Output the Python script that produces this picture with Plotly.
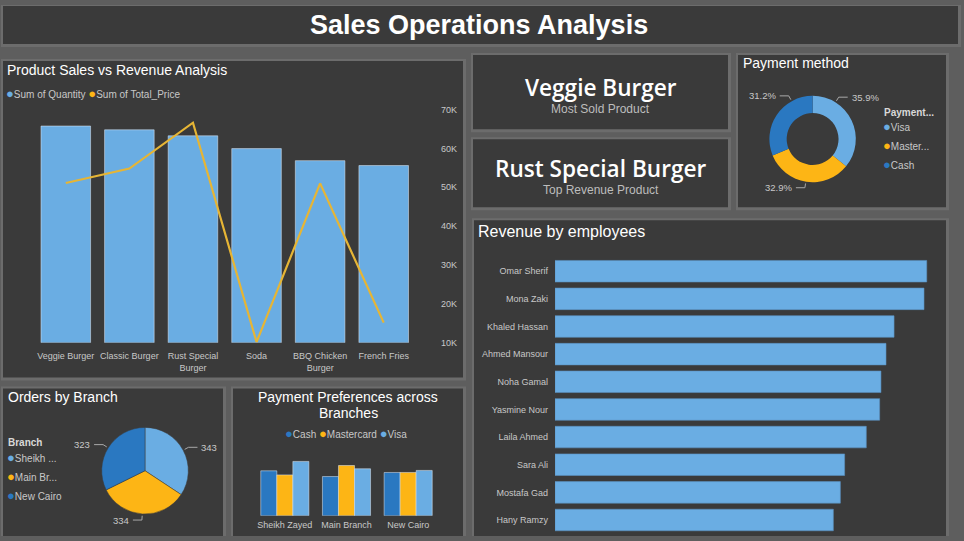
import math
import plotly.graph_objects as go

W, H = 964, 541

# ---------------- data ----------------
products = ["Veggie Burger", "Classic Burger", "Rust Special Burger", "Soda",
            "BBQ Chicken Burger", "French Fries"]
product_ticks = ["Veggie Burger", "Classic Burger", "Rust Special<br>Burger", "Soda",
                 "BBQ Chicken<br>Burger", "French Fries"]
sum_quantity = [576, 566, 550, 516, 484, 471]
sum_total_price = [51100, 54800, 66600, 10200, 51000, 15200]
price_ticks = [10000, 20000, 30000, 40000, 50000, 60000, 70000]
price_tick_labels = ["10K", "20K", "30K", "40K", "50K", "60K", "70K"]

employees = ["Omar Sherif", "Mona Zaki", "Khaled Hassan", "Ahmed Mansour", "Noha Gamal",
             "Yasmine Nour", "Laila Ahmed", "Sara Ali", "Mostafa Gad", "Hany Ramzy"]
employee_revenue = [28660, 28450, 26140, 25520, 25130, 25030, 24000, 22330, 22000, 21460]

pay_methods = ["Visa", "Mastercard", "Cash"]
pay_method_legend = ["Visa", "Master...", "Cash"]
pay_method_orders = [359, 329, 312]

branches = ["Sheikh Zayed", "Main Branch", "New Cairo"]
branch_legend = ["Sheikh ...", "Main Br...", "New Cairo"]
branch_orders = [343, 334, 323]

pref_methods = ["Cash", "Mastercard", "Visa"]
pref_cash = [110, 96, 106]
pref_mastercard = [100, 123, 106]
pref_visa = [133, 115, 111]

kpi_values = ["Veggie Burger", "Rust Special Burger"]
kpi_captions = ["Most Sold Product", "Top Revenue Product"]

# ---------------- styles ----------------
LIGHT = "#6AADE3"
YELLOW = "#FDB515"
DARK = "#2A78C1"
LINE = "#E6B535"
PANEL = "#3a3a3a"
BG = "#5e5e5e"
TXT = "#c8c8c8"
FONT = "Liberation Sans, Arial, sans-serif"

# the captured page is offset/squeezed slightly in the vertical direction;
# layout positions below are given in captured-picture pixels
VA, VB = 5.0, 0.98


def X(px):
    return px / W


def Y(py):
    v = 1 - ((py - VA) / VB) / H
    return min(max(v, 0.0), 1.0)


fig = go.Figure()

# ---- product chart ----
fig.add_trace(go.Bar(x=products, y=sum_quantity, name="Sum of Quantity",
                     marker_color=LIGHT, xaxis="x", yaxis="y", hoverinfo="x+y"))
fig.add_trace(go.Scatter(x=products, y=sum_total_price, name="Sum of Total_Price",
                         mode="lines", line=dict(color=LINE, width=2.2),
                         xaxis="x", yaxis="y2"))

# ---- revenue by employees ----
fig.add_trace(go.Bar(x=employee_revenue, y=employees, orientation="h",
                     marker_color=LIGHT, marker_line=dict(color="#5a90c0", width=0.6),
                     xaxis="x3", yaxis="y3", name="Revenue"))

# ---- payment preferences ----
for name, vals, col in zip(pref_methods, [pref_cash, pref_mastercard, pref_visa],
                           [DARK, YELLOW, LIGHT]):
    fig.add_trace(go.Bar(x=branches, y=vals, name=name, marker_color=col,
                         xaxis="x4", yaxis="y4"))

# ---- pies ----
DONUT_C, DONUT_R = (812.6, 138.8), 43.2
PIE_C, PIE_R = (145.0, 470.0), 43.3


def pie_domain(c, r):
    return dict(x=[X(c[0] - r), X(c[0] + r)], y=[Y(c[1] + r), Y(c[1] - r)])


fig.add_trace(go.Pie(labels=pay_methods, values=pay_method_orders, hole=0.6,
                     sort=False, direction="clockwise", rotation=0,
                     marker=dict(colors=[LIGHT, YELLOW, DARK]), textinfo="none",
                     domain=pie_domain(DONUT_C, DONUT_R), showlegend=False))
fig.add_trace(go.Pie(labels=branches, values=branch_orders,
                     sort=False, direction="clockwise", rotation=0,
                     marker=dict(colors=[LIGHT, YELLOW, DARK], line=dict(color="#3a3a3a", width=0.5)),
                     textinfo="none",
                     domain=pie_domain(PIE_C, PIE_R), showlegend=False))

shapes = []
annotations = []

# ---- panels ----
panels = [
    (3, 6, 958, 44),      # title
    (3, 61, 463, 377),    # product
    (473, 55, 728, 129),  # kpi 1
    (473, 139, 728, 207), # kpi 2
    (738, 55, 946, 207),  # payment method
    (474, 220, 946, 545), # employees
    (3, 388, 223, 536),   # orders by branch
    (233, 388, 463, 536), # payment prefs
]
for (x0, y0, x1, y1) in panels:
    shapes.append(dict(type="rect", xref="paper", yref="paper",
                       x0=X(x0 - 2), x1=X(x1 + 3), y0=Y(y1 + 3), y1=Y(y0 - 2),
                       fillcolor="#6c6c6c", line_width=0, layer="below"))
for (x0, y0, x1, y1) in panels:
    shapes.append(dict(type="rect", xref="paper", yref="paper",
                       x0=X(x0), x1=X(x1), y0=Y(y1), y1=Y(y0),
                       fillcolor=PANEL, line_width=0, layer="below"))


def ann(px, py, text, size, color="#ffffff", xanchor="left", bold=False, family=FONT, weight=None):
    f = dict(size=size, color=color, family=family)
    if weight is not None:
        f["weight"] = weight
    annotations.append(dict(x=X(px), y=Y(py), xref="paper", yref="paper",
                            text=(f"<b>{text}</b>" if bold else text),
                            showarrow=False, xanchor=xanchor, yanchor="middle", font=f))


# titles
ann(479, 25, "Sales Operations Analysis", 27, bold=True, xanchor="center")
ann(5, 70, "Product Sales vs Revenue Analysis", 14)
ann(741, 63, "Payment method", 14)
ann(476, 231, "Revenue by employees", 16)
ann(6, 396, "Orders by Branch", 14)
ann(348, 396, "Payment Preferences across", 14, xanchor="center")
ann(348, 412, "Branches", 14, xanchor="center")

# KPI cards
KFONT = "Open Sans, Noto Sans, sans-serif"
for (cy_val, cy_cap), val, cap in zip([(87, 109), (168, 190)], kpi_values, kpi_captions):
    ann(600.5, cy_val, val, 22.6, xanchor="center", family=KFONT, weight=600)
    ann(600.5, cy_cap, cap, 12, color="#bdbdbd", xanchor="center")


def dot(color):
    return f"<span style='color:{color};font-size:13px'>●</span>"


# product legend
legend_names = ["Sum of Quantity", "Sum of Total_Price"]
legend_cols = [LIGHT, YELLOW]
ann(4, 93, "".join(f"{dot(c)}{n} " for n, c in zip(legend_names, legend_cols)), 10, color=TXT)

# payment method legend
ann(882, 112, "Payment...", 10, color="#d8d8d8", bold=True)
for i, (n, c) in enumerate(zip(pay_method_legend, [LIGHT, YELLOW, DARK])):
    ann(881, 126 + i * 19.2, f"{dot(c)}{n}", 10, color=TXT)

# branch legend
ann(6, 442, "Branch", 10, color="#d8d8d8", bold=True)
for i, (n, c) in enumerate(zip(branch_legend, [LIGHT, YELLOW, DARK])):
    ann(5, 457 + i * 19, f"{dot(c)}{n}", 10, color=TXT)

# payment prefs legend
ann(346, 433, "&nbsp;".join(f"{dot(c)}{n}" for n, c in zip(pref_methods, [DARK, YELLOW, LIGHT])),
    10, color=TXT, xanchor="center")


# pie labels with leader lines (anchor angles in degrees clockwise from 12 o'clock;
# None -> slice mid-angle)
def pie_labels(values, texts, c, r, anchor_angles=None):
    total = sum(values)
    cum = 0
    for i, (v, t) in enumerate(zip(values, texts)):
        mid = (cum + v / 2) / total * 2 * math.pi
        cum += v
        if anchor_angles is not None and anchor_angles[i] is not None:
            mid = math.radians(anchor_angles[i])
        sx, sy = math.sin(mid), -math.cos(mid)
        p0 = (c[0] + 1.04 * r * sx, c[1] + 1.04 * r * sy)
        p1 = (c[0] + 1.14 * r * sx, c[1] + 1.14 * r * sy)
        side = 1 if sx >= 0 else -1
        p2 = (p1[0] + side * 9, p1[1])
        for a, b in [(p0, p1), (p1, p2)]:
            shapes.append(dict(type="line", xref="paper", yref="paper",
                               x0=X(a[0]), y0=Y(a[1]), x1=X(b[0]), y1=Y(b[1]),
                               line=dict(color="#a8a8a8", width=1)))
        ann(p2[0] + side * 2, p2[1], t, 9.5, color=TXT, xanchor="left" if side > 0 else "right")


DONUT_LABEL_ANGLES = [32, 189, 331]
pie_labels(pay_method_orders, [f"{v / sum(pay_method_orders) * 100:.1f}%" for v in pay_method_orders],
           DONUT_C, DONUT_R, DONUT_LABEL_ANGLES)
pie_labels(branch_orders, [str(v) for v in branch_orders], PIE_C, PIE_R)

axis_common = dict(showgrid=False, zeroline=False, showline=False, fixedrange=True)
tickfont = dict(size=9, color=TXT, family=FONT)

fig.update_layout(
    width=W, height=H, autosize=False,
    margin=dict(l=0, r=0, t=0, b=0),
    paper_bgcolor=BG, plot_bgcolor="rgba(0,0,0,0)",
    showlegend=False, barmode="group", bargap=0.22, bargroupgap=0,
    font=dict(family=FONT, color=TXT),
    shapes=shapes, annotations=annotations,
    # product
    xaxis=dict(domain=[X(34), X(415.5)], anchor="y", tickfont=tickfont, ticks="",
               tickvals=products, ticktext=product_ticks, ticklabelstandoff=6, **axis_common),
    yaxis=dict(domain=[Y(342.3), Y(109.3)], range=[0, 620], visible=False, **axis_common),
    yaxis2=dict(overlaying="y", side="right", anchor="free", position=X(440),
                range=[10000, 70000], tickvals=price_ticks, ticktext=price_tick_labels,
                tickfont=tickfont, ticks="", **axis_common),
    # employees
    xaxis3=dict(domain=[X(555), X(930)], anchor="y3", range=[0, 28912], visible=False, **axis_common),
    yaxis3=dict(domain=[Y(533), Y(257)], anchor="x3", autorange="reversed", tickfont=tickfont,
                ticks="", ticklabelstandoff=6, **axis_common),
    # payment preferences
    xaxis4=dict(domain=[X(254), X(439)], anchor="y4", tickfont=tickfont, ticks="",
                ticklabelstandoff=2, **axis_common),
    yaxis4=dict(domain=[Y(515), Y(455)], anchor="x4", range=[0, 147], visible=False, **axis_common),
)

fig.write_html("out.html")
